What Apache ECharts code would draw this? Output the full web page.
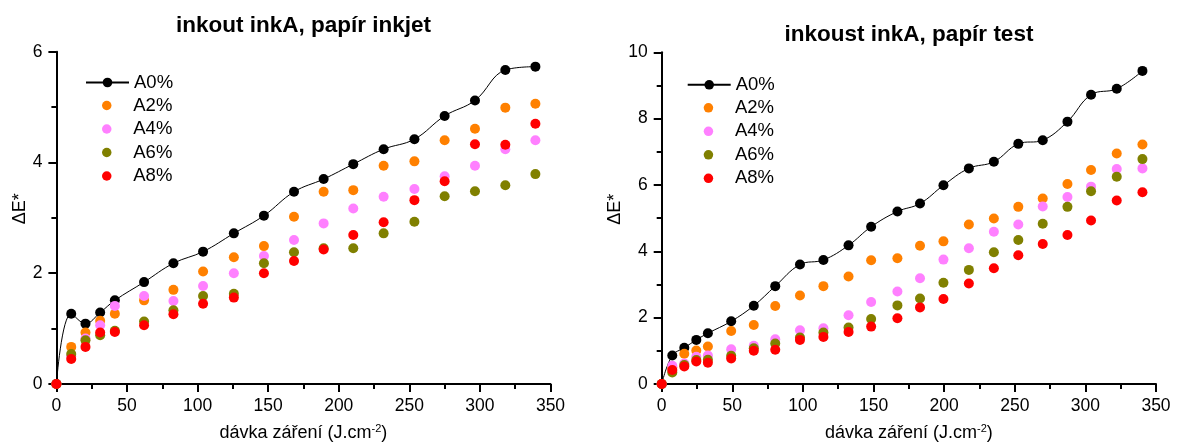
<!DOCTYPE html>
<html>
<head>
<meta charset="utf-8">
<script src="https://cdn.jsdelivr.net/npm/echarts@6/dist/echarts.min.js"></script>
<style>
  html, body { margin: 0; padding: 0; background: #fff; }
  #chart { width: 1180px; height: 447px; }
</style>
</head>
<body>
<div id="chart"></div>
<script>
// Colour difference ΔE* versus irradiation dose, ink "inkA" on two papers.
const seriesNames = ['A0%', 'A2%', 'A4%', 'A6%', 'A8%'];
const seriesColors = ['#000000', '#ff8000', '#ff80ff', '#808000', '#ff0000'];

// Paper "inkjet"
const doseInkjet = [0, 10.5, 20.6, 31, 41.4, 62.1, 82.9, 103.9, 125.7, 147, 168.3, 189.3, 210.3, 231.8, 253.6, 275, 296.5, 318, 339.3];
const inkjetA0 = [0, 1.27, 1.09, 1.29, 1.51, 1.84, 2.18, 2.39, 2.72, 3.04, 3.47, 3.70, 3.97, 4.24, 4.42, 4.84, 5.12, 5.67, 5.73];
const inkjetA2 = [0, 0.67, 0.93, 1.14, 1.27, 1.51, 1.70, 2.03, 2.29, 2.49, 3.02, 3.47, 3.50, 3.94, 4.02, 4.40, 4.61, 4.99, 5.06];
const inkjetA4 = [0, 0.50, 0.82, 1.06, 1.41, 1.59, 1.50, 1.77, 2.00, 2.31, 2.60, 2.90, 3.17, 3.38, 3.52, 3.75, 3.94, 4.24, 4.40];
const inkjetA6 = [0, 0.54, 0.79, 0.88, 0.96, 1.13, 1.33, 1.59, 1.63, 2.18, 2.38, 2.45, 2.45, 2.72, 2.93, 3.39, 3.48, 3.59, 3.79];
const inkjetA8 = [0, 0.45, 0.67, 0.93, 0.94, 1.06, 1.26, 1.45, 1.56, 2.00, 2.22, 2.43, 2.69, 2.92, 3.32, 3.66, 4.33, 4.32, 4.70];

// Paper "test"
const doseTest = [0, 7.5, 16, 24.5, 32.7, 49.2, 65.2, 80.4, 97.9, 114.5, 132.3, 148.3, 166.9, 182.9, 199.5, 217.5, 235.2, 252.5, 269.8, 287.3, 304, 322.2, 340.4];
const testA0 = [0, 0.86, 1.09, 1.33, 1.53, 1.89, 2.36, 2.95, 3.60, 3.74, 4.18, 4.74, 5.20, 5.44, 5.99, 6.50, 6.70, 7.24, 7.35, 7.91, 8.72, 8.90, 9.44];
const testA2 = [0, 0.50, 0.91, 1.01, 1.13, 1.60, 1.78, 2.35, 2.67, 2.95, 3.24, 3.73, 3.79, 4.17, 4.30, 4.81, 4.99, 5.34, 5.59, 6.03, 6.45, 6.95, 7.22];
const testA4 = [0, 0.55, 0.62, 0.82, 0.86, 1.05, 1.15, 1.35, 1.62, 1.68, 2.07, 2.47, 2.79, 3.19, 3.75, 4.09, 4.59, 4.81, 5.35, 5.64, 5.95, 6.48, 6.50];
const testA6 = [0, 0.35, 0.57, 0.72, 0.73, 0.85, 1.08, 1.22, 1.40, 1.55, 1.70, 1.96, 2.37, 2.58, 3.05, 3.44, 3.97, 4.34, 4.83, 5.34, 5.81, 6.25, 6.78];
const testA8 = [0, 0.42, 0.53, 0.68, 0.64, 0.77, 1.00, 1.03, 1.33, 1.42, 1.57, 1.73, 1.98, 2.31, 2.56, 3.03, 3.49, 3.88, 4.22, 4.49, 4.93, 5.53, 5.78];

const titleInkjet = 'inkout inkA, papír inkjet';
const titleTest = 'inkoust inkA, papír test';
const xName = 'dávka záření (J.cm{sup|-2})';
const yName = 'ΔE*';
const xMax = 350, xStep = 50;
const yMaxInkjet = 6, yMaxTest = 10, yStep = 2;

const FONT = '"Liberation Sans", Arial, sans-serif';

const zip = (xs, ys) => xs.map((x, i) => [x, ys[i]]);

function xAxisCfg(gridIndex) {
  return {
    type: 'value', gridIndex, min: 0, max: xMax, interval: xStep,
    name: xName, nameLocation: 'middle', nameGap: 39,
    nameTextStyle: {
      fontFamily: FONT, fontSize: 18, color: '#000',
      rich: { sup: { fontFamily: FONT, fontSize: 11, color: '#000', padding: [0, 0, 9, 0] } }
    },
    axisLine: { show: true, onZero: false, lineStyle: { color: '#000', width: 2 } },
    axisTick: { show: true, inside: false, length: 8, lineStyle: { color: '#000', width: 2 } },
    minorTick: { show: true, splitNumber: 2, length: 5, lineStyle: { color: '#000', width: 2 } },
    axisLabel: { fontFamily: FONT, fontSize: 17.5, color: '#000', margin: 13 },
    splitLine: { show: false }, minorSplitLine: { show: false }
  };
}

function yAxisCfg(gridIndex, max, nameGap) {
  return {
    type: 'value', gridIndex, min: 0, max, interval: yStep,
    name: yName, nameLocation: 'middle', nameGap,
    // extra leading padding lifts the rotated name slightly above the axis centre
    nameTextStyle: { fontFamily: FONT, fontSize: 18, color: '#000', padding: [0, 0, 0, 18] },
    axisLine: { show: true, onZero: false, lineStyle: { color: '#000', width: 2 } },
    axisTick: { show: true, inside: false, length: 8, lineStyle: { color: '#000', width: 2 } },
    minorTick: { show: true, splitNumber: 2, length: 5, lineStyle: { color: '#000', width: 2 } },
    axisLabel: { fontFamily: FONT, fontSize: 17.5, color: '#000', margin: 14 },
    splitLine: { show: false }, minorSplitLine: { show: false }
  };
}

function buildSeries(axisIndex, dose, sets) {
  return sets.map((vals, i) => {
    const base = {
      name: seriesNames[i],
      xAxisIndex: axisIndex, yAxisIndex: axisIndex,
      data: zip(dose, vals),
      symbol: 'circle', symbolSize: 10,
      itemStyle: { color: seriesColors[i], opacity: 1 },
      clip: true
    };
    if (i === 0) {
      // the connected reference curve sits underneath the dot series
      return Object.assign(base, {
        type: 'line', smooth: 0.4, showSymbol: true, z: 1,
        lineStyle: { color: '#000', width: 1 }
      });
    }
    return Object.assign(base, { type: 'scatter', z: 2 });
  });
}

// Legend: the line entry and the dot-only entries are laid out as two blocks
// so that every marker sits on the same vertical line.
function legendPair(left, top) {
  const common = {
    orient: 'vertical', padding: 0, itemWidth: 43, itemGap: 4.5,
    selectedMode: false,
    textStyle: { fontFamily: FONT, fontSize: 18.5, color: '#000', lineHeight: 18.5 }
  };
  return [
    Object.assign({}, common, { left, top, itemHeight: 12, data: [seriesNames[0]] }),
    Object.assign({}, common, { left: left + 17, top: top + 23, itemHeight: 9.5, data: seriesNames.slice(1) })
  ];
}

const chart = echarts.init(document.getElementById('chart'), null, { renderer: 'canvas' });
chart.setOption({
  animation: false,
  backgroundColor: '#fff',
  title: [
    { text: titleInkjet, left: 303.5, top: 14.5, textAlign: 'center', padding: 0,
      textStyle: { fontFamily: FONT, fontSize: 22.5, fontWeight: 'bold', color: '#000' } },
    { text: titleTest, left: 909, top: 23.5, textAlign: 'center', padding: 0,
      textStyle: { fontFamily: FONT, fontSize: 22.5, fontWeight: 'bold', color: '#000' } }
  ],
  legend: legendPair(85, 73).concat(legendPair(686.7, 75.3)),
  grid: [
    { left: 56.4, right: 629.5, top: 51.7, bottom: 62 },
    { left: 661.7, right: 24, top: 52.3, bottom: 62 }
  ],
  xAxis: [xAxisCfg(0), xAxisCfg(1)],
  yAxis: [yAxisCfg(0, yMaxInkjet, 15), yAxisCfg(1, yMaxTest, 33)],
  series: buildSeries(0, doseInkjet, [inkjetA0, inkjetA2, inkjetA4, inkjetA6, inkjetA8])
    .concat(buildSeries(1, doseTest, [testA0, testA2, testA4, testA6, testA8]))
});
</script>
</body>
</html>
